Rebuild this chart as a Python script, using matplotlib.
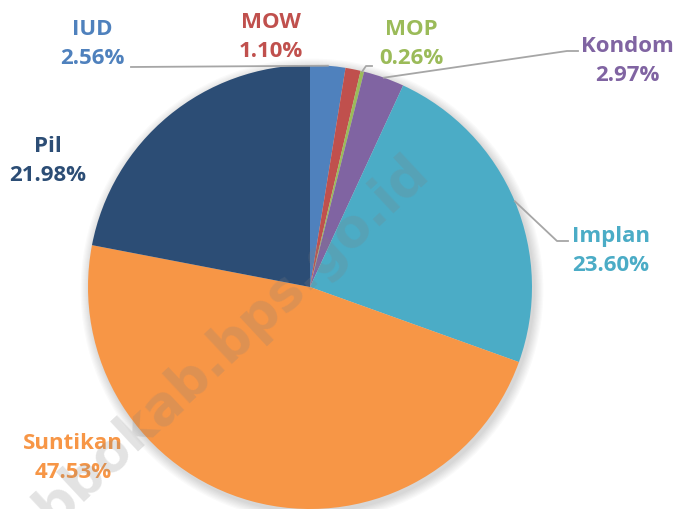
import numpy as np
import matplotlib.pyplot as plt
from matplotlib.patches import Circle

# data (clockwise from 12 o'clock)
labels = ['IUD', 'MOW', 'MOP', 'Kondom', 'Implan', 'Suntikan', 'Pil']
shares = [2.56, 1.10, 0.26, 2.97, 23.60, 47.53, 21.98]
slice_colors = ['#4F81BD', '#C0504D', '#9BBB59', '#8064A2', '#4BACC6', '#F79646', '#2C4D75']
text_colors = ['#4F81BD', '#C0504D', '#9BBB59', '#8064A2', '#4BACC6', '#F79646', '#2C4D75']

W, H = 676, 509
fig = plt.figure(figsize=(W / 100, H / 100), dpi=100)
ax = fig.add_axes([0, 0, 1, 1])

cx, cy, r = 310, H - 287, 222

# soft shadow behind the pie
for k in range(8):
    ax.add_patch(Circle((cx + 2, cy - 3), r + 1 + k * 1.2, color='black',
                        alpha=0.018, lw=0, zorder=0))

wedges, _ = ax.pie(shares, colors=slice_colors, startangle=90, counterclock=False,
                   center=(cx, cy), radius=r, wedgeprops=dict(linewidth=0))
for w in wedges:
    w.set_zorder(2)

# label positions (pixel coords of the text centre) and leader elbows
label_pos = {
    'IUD': (92, 44), 'MOW': (271, 37), 'MOP': (411, 44), 'Kondom': (627, 61),
    'Implan': (611, 251), 'Suntikan': (73, 458), 'Pil': (48, 161),
}
leaders = {
    'IUD': [(131, 67)],
    'MOP': [(366, 66), (372, 66)],
    'Kondom': [(567, 51), (578, 51)],
    'Implan': [(557, 241), (568, 241)],
}

font = dict(family=['Open Sans', 'DejaVu Sans'], fontsize=16, fontweight='bold')
for i, (lab, val) in enumerate(zip(labels, shares)):
    x, y = label_pos[lab]
    ax.text(x, H - y, f'{lab}\n{val:.2f}%', color=text_colors[i], ha='center',
            va='center', linespacing=1.45, zorder=5, **font)
    if lab in leaders:
        w = wedges[i]
        ang = np.deg2rad((w.theta1 + w.theta2) / 2)
        px, py = cx + r * np.cos(ang), cy + r * np.sin(ang)
        pts = [(px, py)] + [(a, H - b) for a, b in leaders[lab]]
        xs, ys = zip(*pts)
        ax.plot(xs, ys, color='#A6A6A6', lw=1.3, zorder=3)

# watermark
ax.text(232, H - 340, 'bbokab.bps.go.id', rotation=43, ha='center', va='center',
        fontsize=38, fontweight='bold', color='#808080', alpha=0.22,
        family=['DejaVu Sans'], zorder=6)

ax.set_xlim(0, W)
ax.set_ylim(0, H)
ax.set_aspect('equal')
ax.axis('off')
fig.savefig('out.png', dpi=100)
